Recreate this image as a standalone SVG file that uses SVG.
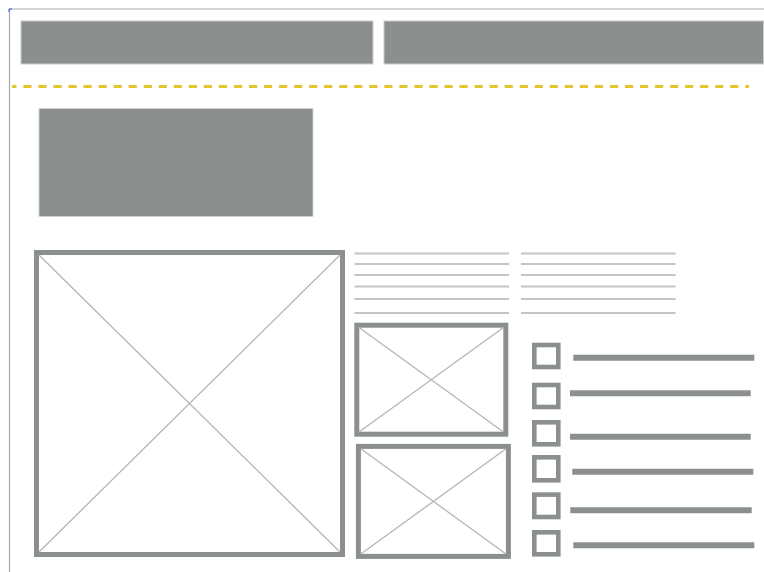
<svg xmlns="http://www.w3.org/2000/svg" width="764" height="572" viewBox="0 0 764 572">
<style>
.bar{fill:#8b908f;stroke:#c9cccb;stroke-width:1}
.frame{fill:none;stroke:#8b908f;stroke-width:5}
.diag{stroke:#b3b6b5;stroke-width:1.3;fill:none}
.txt{stroke:#c2c5c4;stroke-width:1.8}
.chk{fill:none;stroke:#8b908f;stroke-width:4.6}
.item{stroke:#8b908f;stroke-width:6}
</style>
<rect width="764" height="572" fill="#ffffff"/>
<g id="page-border">
<path d="M9.5 572 V9 H764" fill="none" stroke="#a7a9a9" stroke-width="1.2"/>
<path d="M9 12 V9 H12" fill="none" stroke="#3b5bdb" stroke-width="1"/>
</g>
<g id="header-left"><rect class="bar" x="21" y="21" width="352" height="43"/></g>
<g id="header-right"><rect class="bar" x="384" y="21" width="379.5" height="43"/></g>
<g id="divider"><line x1="12" y1="86.5" x2="749" y2="86.5" stroke="#e2c62f" stroke-width="3" stroke-dasharray="8.2 6.84" stroke-dashoffset="3.7"/></g>
<g id="hero"><rect x="39" y="108.5" width="274" height="108" fill="#8b908f" stroke="#d4d6d5" stroke-width="0.8"/></g>
<g id="image-large">
<rect class="frame" x="36.5" y="252.5" width="306" height="302"/>
<path class="diag" d="M39 255 L340 552 M340 255 L39 552"/>
</g>
<g id="text-col-1">
<line class="txt" x1="354.5" y1="253.5" x2="509" y2="253.5"/>
<line class="txt" x1="354.5" y1="264" x2="509" y2="264"/>
<line class="txt" x1="354.5" y1="275" x2="509" y2="275"/>
<line class="txt" x1="354.5" y1="286.5" x2="509" y2="286.5"/>
<line class="txt" x1="354.5" y1="299" x2="509" y2="299"/>
<line class="txt" x1="354.5" y1="313" x2="509" y2="313"/>
</g>
<g id="text-col-2">
<line class="txt" x1="521" y1="253.5" x2="675.5" y2="253.5"/>
<line class="txt" x1="521" y1="264" x2="675.5" y2="264"/>
<line class="txt" x1="521" y1="275" x2="675.5" y2="275"/>
<line class="txt" x1="521" y1="286.5" x2="675.5" y2="286.5"/>
<line class="txt" x1="521" y1="299" x2="675.5" y2="299"/>
<line class="txt" x1="521" y1="313" x2="675.5" y2="313"/>
</g>
<g id="image-small-1">
<rect class="frame" x="356.8" y="325.2" width="149" height="109" stroke-width="4.8"/>
<path class="diag" d="M359 327.5 L503.5 432 M503.5 327.5 L359 432"/>
</g>
<g id="image-small-2">
<rect class="frame" x="358.4" y="446.4" width="150" height="110" stroke-width="4.8"/>
<path class="diag" d="M360.8 448.8 L506 554 M506 448.8 L360.8 554"/>
</g>
<g id="list-item-1"><rect class="chk" x="534.3" y="345" width="24" height="22"/><line class="item" x1="573.3" y1="357.7" x2="754.3" y2="357.7"/></g>
<g id="list-item-2"><rect class="chk" x="534.3" y="385" width="24" height="22"/><line class="item" x1="570" y1="393.3" x2="750.7" y2="393.3"/></g>
<g id="list-item-3"><rect class="chk" x="534.3" y="422.3" width="24" height="22"/><line class="item" x1="570" y1="436.8" x2="750.7" y2="436.8"/></g>
<g id="list-item-4"><rect class="chk" x="534.3" y="457.3" width="24" height="23"/><line class="item" x1="572.3" y1="471.8" x2="753.3" y2="471.8"/></g>
<g id="list-item-5"><rect class="chk" x="534.3" y="494.6" width="24" height="22.4"/><line class="item" x1="570.3" y1="510.3" x2="751.7" y2="510.3"/></g>
<g id="list-item-6"><rect class="chk" x="534.3" y="532.3" width="24" height="22"/><line class="item" x1="573.3" y1="545.2" x2="754.3" y2="545.2"/></g>
</svg>
